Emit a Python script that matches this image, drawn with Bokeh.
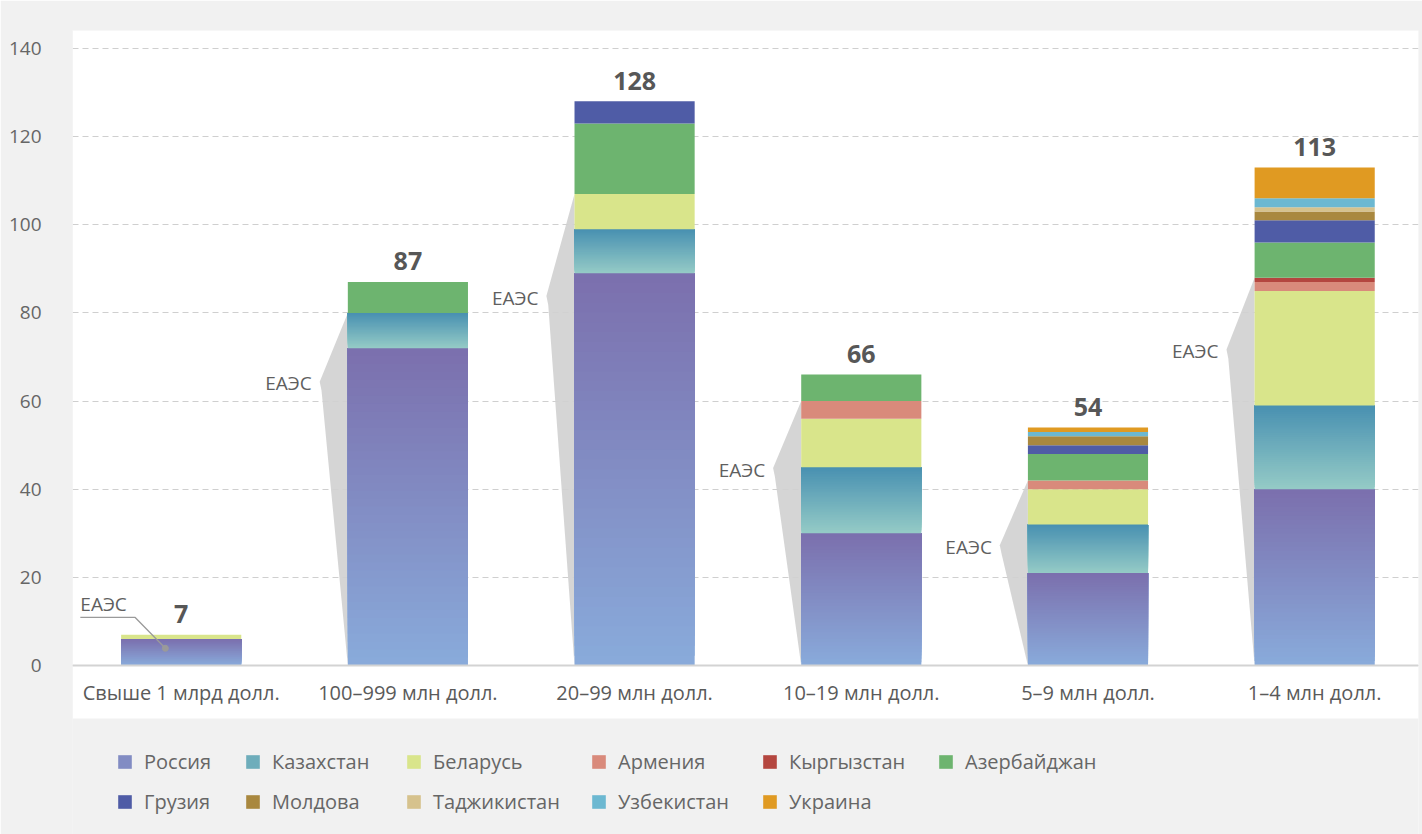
from bokeh.plotting import figure
from bokeh.models import FixedTicker, Span, BoxAnnotation, Legend, LegendItem, ColumnDataSource
from bokeh.core.properties import value
from bokeh.embed import file_html
from bokeh.resources import INLINE

# ---------------- data ----------------
categories = ["Свыше 1 млрд долл.", "100–999 млн долл.", "20–99 млн долл.",
              "10–19 млн долл.", "5–9 млн долл.", "1–4 млн долл."]
series_names = ["Россия", "Казахстан", "Беларусь", "Армения", "Кыргызстан", "Азербайджан",
                "Грузия", "Молдова", "Таджикистан", "Узбекистан", "Украина"]
russia     = [6, 72, 89, 30, 21, 40]
kazakhstan = [0, 8, 10, 15, 11, 19]
belarus    = [1, 0, 8, 11, 8, 26]
armenia    = [0, 0, 0, 4, 2, 2]
kyrgyzstan = [0, 0, 0, 0, 0, 1]
azerbaijan = [0, 7, 16, 6, 6, 8]
georgia    = [0, 0, 5, 0, 2, 5]
moldova    = [0, 0, 0, 0, 2, 2]
tajikistan = [0, 0, 0, 0, 0, 1]
uzbekistan = [0, 0, 0, 0, 1, 2]
ukraine    = [0, 0, 0, 0, 1, 7]
y_ticks = [0, 20, 40, 60, 80, 100, 120, 140]
eaeu_label = "ЕАЭС"
eaeu_count = 5  # first five series are EAEU members

series_values = [russia, kazakhstan, belarus, armenia, kyrgyzstan, azerbaijan,
                 georgia, moldova, tajikistan, uzbekistan, ukraine]

# ---------------- styles ----------------
FONT = "Open Sans"
GRAY_BG = "#f1f1f1"
TEXT = "#5a5a5a"
colors = {
    "Россия": ("#89abdb", "#7b6fad"),      # gradient bottom -> top
    "Казахстан": ("#95cbc6", "#4890b1"),
    "Беларусь": "#d9e58b",
    "Армения": "#d98a7b",
    "Кыргызстан": "#b4463f",
    "Азербайджан": "#6db46f",
    "Грузия": "#4f5ca6",
    "Молдова": "#a9883f",
    "Таджикистан": "#d6c28d",
    "Узбекистан": "#6cb8d1",
    "Украина": "#e09a22",
}
BAR_W = 0.53
N_STRIPS = 40
apex_frac = [None, 0.80, 0.78, 0.74, 0.64, 0.81]   # vertical position of bracket tip (share of EAEU top)
APEX_DX = 0.124
LABEL_DX = 0.035

xs = list(range(len(categories)))
totals = [sum(s[i] for s in series_values) for i in xs]

p = figure(width=1422, height=834, output_backend="svg", toolbar_location=None,
           x_range=(-0.4795, 5.458), y_range=(-38.35, 144.08),
           min_border_left=72, min_border_right=4, min_border_top=30, min_border_bottom=0)
p.background_fill_color = GRAY_BG
p.background_fill_alpha = 1.0
p.border_fill_color = GRAY_BG
p.border_fill_alpha = 1.0
p.outline_line_color = None

# white panel
p.add_layout(BoxAnnotation(bottom=-12.03, fill_color="white", fill_alpha=1.0,
                           line_color=None, level="image"))

p.xaxis.visible = False
p.xgrid.visible = False
p.yaxis.ticker = FixedTicker(ticks=y_ticks)
p.yaxis.axis_line_color = None
p.yaxis.major_tick_line_color = None
p.yaxis.minor_tick_line_color = None
p.yaxis.major_label_standoff = 25
p.yaxis.major_label_text_font = FONT
p.yaxis.major_label_text_font_size = "19px"
p.yaxis.major_label_text_color = "#666666"
p.yaxis.background_fill_color = GRAY_BG
p.ygrid.ticker = FixedTicker(ticks=y_ticks)
p.ygrid.grid_line_color = "#cfcfcf"
p.ygrid.grid_line_dash = "6 4"
p.ygrid.grid_line_width = 1
p.add_layout(Span(location=0, dimension="width", line_color="#d3d3d3", line_width=2))

# EAEU bracket wedges (behind bars)
eaeu_top = [sum(series_values[k][i] for k in range(eaeu_count)) for i in xs]
w_xs, w_ys, lab_x, lab_y = [], [], [], []
for i in xs:
    if apex_frac[i] is None:
        continue
    left = i - BAR_W / 2
    ay = eaeu_top[i] * apex_frac[i]
    ax = left - APEX_DX
    w_xs.append([left, ax, ax + 0.008, left])
    w_ys.append([eaeu_top[i], ay + 0.4, ay - 1.6, 0])
    lab_x.append(ax - LABEL_DX)
    lab_y.append(ay)
p.patches(w_xs, w_ys, fill_color="#d0d0d0", fill_alpha=0.9, line_color=None)
p.text(x=lab_x, y=lab_y, text=[eaeu_label] * len(lab_x), text_align="right",
       text_baseline="middle", text_font=value(FONT), text_font_size="19px",
       text_color="#5f5f5f")


def hex2rgb(h):
    h = h.lstrip("#")
    return tuple(int(h[j:j + 2], 16) for j in (0, 2, 4))


def lerp(c1, c2, t):
    a, b = hex2rgb(c1), hex2rgb(c2)
    return "#%02x%02x%02x" % tuple(round(u + (v - u) * t) for u, v in zip(a, b))


legend_items = {}
cum = [0] * len(xs)
for name, vals in zip(series_names, series_values):
    c = colors[name]
    seg_b = list(cum)
    seg_t = [cum[i] + vals[i] for i in xs]
    if isinstance(c, tuple):
        cb, ct = c
        d = dict(x=[], bottom=[], top=[], color=[])
        mid_index = None
        for k in range(N_STRIPS):
            col = lerp(cb, ct, (k + 0.5) / N_STRIPS)
            for i in xs:
                if vals[i] <= 0:
                    continue
                if k == N_STRIPS // 2 and mid_index is None:
                    mid_index = len(d["x"])
                d["x"].append(i)
                d["bottom"].append(seg_b[i] + vals[i] * k / N_STRIPS)
                d["top"].append(seg_t[i])
                d["color"].append(col)
        r = p.vbar(x="x", bottom="bottom", top="top", width=BAR_W, fill_color="color",
                   line_color=None, source=ColumnDataSource(d))
        legend_items[name] = LegendItem(label=name, renderers=[r], index=mid_index)
    else:
        r = p.vbar(x=xs, bottom=seg_b, top=seg_t, width=BAR_W,
                   fill_color=c, line_color=None)
        legend_items[name] = LegendItem(label=name, renderers=[r])
    cum = seg_t

# totals
p.text(x=xs, y=[t + 4.7 for t in totals], text=[str(t) for t in totals],
       text_align="center", text_baseline="alphabetic", text_font=value(FONT),
       text_font_size="25px", text_font_style="bold", text_color="#575757")

# category labels inside the white panel
p.text(x=xs, y=[-6.1] * len(xs), text=categories, text_align="center",
       text_baseline="middle", text_font=value(FONT), text_font_size="20px",
       text_color=TEXT)

# first-bar EAEU callout
p.text(x=[-0.445], y=[13.9], text=[eaeu_label], text_align="left", text_baseline="middle",
       text_font=value(FONT), text_font_size="19px", text_color="#5f5f5f")
p.line(x=[-0.445, -0.203, -0.07], y=[10.9, 10.9, 3.9], line_color="#9a9a9a", line_width=1.3)
p.scatter(x=[-0.07], y=[3.9], size=6, color="#9a9a9a")

# legend: columns
legend_cols = [(44, [0, 6]), (172, [1, 7]), (333, [2, 8]), (518, [3, 9]), (689, [4, 10]), (865, [5])]
for lx, idxs in legend_cols:
    items = [legend_items[series_names[j]] for j in idxs]
    n_rows = len(idxs)
    lg = Legend(items=items, location=(lx, 19 if n_rows == 2 else 59), orientation="vertical",
                glyph_width=17, glyph_height=17, label_standoff=11, spacing=13,
                padding=0, margin=0, border_line_color=None, background_fill_alpha=0,
                label_text_font=FONT, label_text_font_size="20px",
                label_text_color="#666666", label_height=22)
    p.add_layout(lg)

open("out.html", "w").write(file_html(p, INLINE))
